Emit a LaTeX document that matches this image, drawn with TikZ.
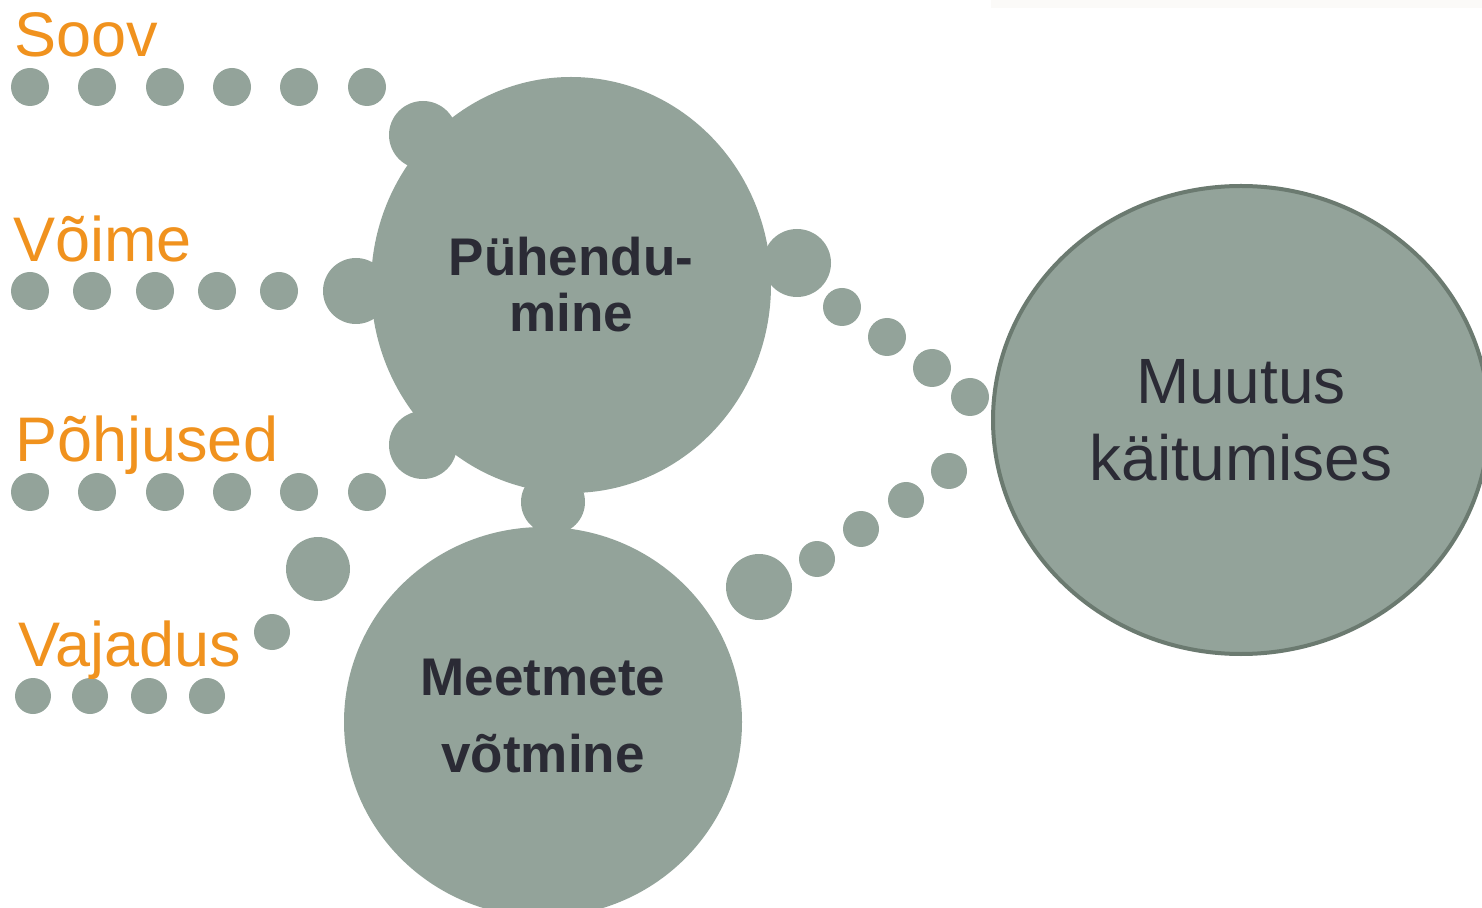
\documentclass[tikz,border=0pt]{standalone}
\usepackage{fontspec}
\setmainfont{Liberation Sans}
\usetikzlibrary{shapes.geometric}

\definecolor{sage}{HTML}{93A39A}
\definecolor{sageedge}{HTML}{6B7A70}
\definecolor{amber}{HTML}{F0921E}
\definecolor{ink}{HTML}{2B2B35}
\definecolor{strip}{HTML}{FBFAF8}

\begin{document}
\begin{tikzpicture}[
    x=0.5pt, y=-0.5pt,
    % Estilos
    every node/.style={inner sep=0pt},
    factor/.style={text=amber, font=\fontsize{31.5}{38}\selectfont, anchor=base west},
    bubble/.style={ellipse, fill=sage, text=ink, align=center},
    inner/.style={font=\fontsize{26.5}{28}\selectfont\bfseries},
    outcome/.style={bubble, draw=sageedge, line width=2pt,
                    font=\fontsize{32}{38.5}\selectfont}
]
\useasboundingbox (0,0) rectangle (1482,908);
\fill[strip] (991,0) rectangle (1482,8);

% Rivid vasakul
\foreach \x in {30,97,165,232,299,367} \fill[sage] (\x,87) circle[radius=19];
\foreach \x in {30,92,155,217,279} \fill[sage] (\x,291) circle[radius=19];
\foreach \x in {30,97,165,232,299,367} \fill[sage] (\x,492) circle[radius=19];
\foreach \x in {33,90,149,207} \fill[sage] (\x,696) circle[radius=18];

% Suuremad mullid
\foreach \x/\y/\r in {423/135/34, 356/291/33, 423/445/34, 553/502/32,
                      318/569/32, 272/632/18, 797/263/34, 759/587/33}
    \fill[sage] (\x,\y) circle[radius=\r];

% Paremad ketid
\foreach \x/\y in {842/307, 887/337, 932/368, 970/397}
    \fill[sage] (\x,\y) circle[radius=19];
\foreach \x/\y in {817/559, 861/529, 906/500, 949/471}
    \fill[sage] (\x,\y) circle[radius=18];

% Peamised ringid
\node[bubble, inner, minimum width=200pt, minimum height=208pt] (commit) at (571,285)
    {Pühendu-\\mine};
\node[bubble, minimum width=199pt, minimum height=195pt] (action) at (543,722) {};
\node[inner, text=ink, align=center, font=\fontsize{26.5}{38.5}\selectfont\bfseries]
    (actiontext) at (543,716) {Meetmete\\võtmine};
\node[outcome, minimum width=248pt, minimum height=234pt] (change) at (1241,420)
    {Muutus\\käitumises};

% Tegurid
\node[factor] (wish) at (14,57) {Soov};
\node[factor] (ability) at (13,262) {Võime};
\node[factor] (reasons) at (15,462) {Põhjused};
\node[factor] (need) at (18,666) {Vajadus};

\end{tikzpicture}
\end{document}
